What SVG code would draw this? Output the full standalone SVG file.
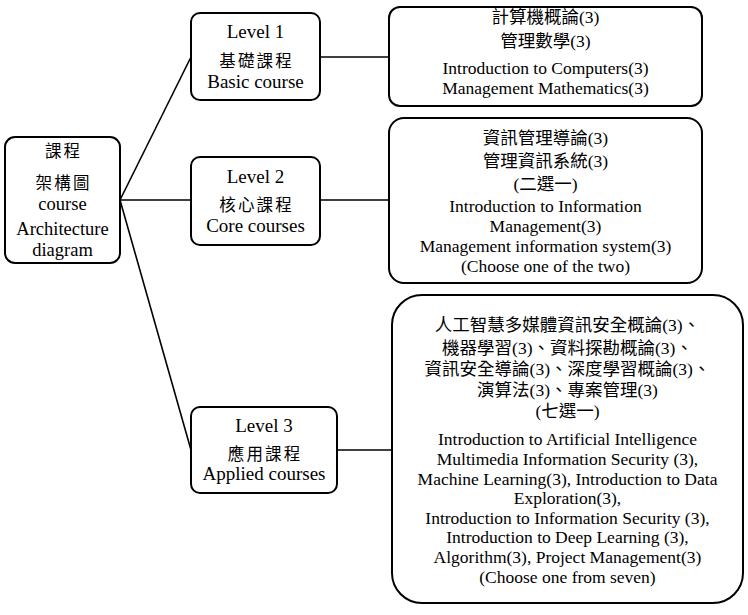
<svg xmlns="http://www.w3.org/2000/svg" width="748" height="615" viewBox="0 0 748 615">
<style>
.box{fill:#fff;stroke:#000;stroke-width:2}
.conn line{stroke:#000;stroke-width:1.6}
text{font-family:"Liberation Serif","Noto Sans CJK TC",serif;fill:#000;text-anchor:middle}
.s{font-size:17.5px}
.l{font-size:19px}
.r{font-size:18.5px}
.c{font-size:16.5px;letter-spacing:2.2px}
</style>
<rect width="748" height="615" fill="#fff"/>
<g id="connectors" class="conn">
<line x1="120" y1="200" x2="191" y2="57"/>
<line x1="120" y1="200" x2="191" y2="200"/>
<line x1="120" y1="200" x2="191" y2="450"/>
<line x1="320" y1="57" x2="389" y2="57"/>
<line x1="320" y1="200" x2="389" y2="200"/>
<line x1="337" y1="450" x2="392" y2="450"/>
</g>
<g id="root">
<rect class="box" x="5" y="137" width="115" height="126" rx="10"/>
<text class="c" x="63.6" y="157">課程</text>
<text class="c" x="63.6" y="189">架構圖</text>
<text class="r" x="62.5" y="210">course</text>
<text class="r" x="62.5" y="235">Architecture</text>
<text class="r" x="62.5" y="256">diagram</text>
</g>
<g id="level1">
<rect class="box" x="191" y="13" width="129" height="87" rx="9"/>
<text class="l" x="255.5" y="38">Level 1</text>
<text class="c" x="256.6" y="67">基礎課程</text>
<text class="l" x="255.5" y="88">Basic course</text>
</g>
<g id="level2">
<rect class="box" x="191" y="157" width="129" height="88" rx="9"/>
<text class="l" x="255.5" y="183">Level 2</text>
<text class="c" x="256.6" y="211">核心課程</text>
<text class="l" x="255.5" y="232">Core courses</text>
</g>
<g id="level3">
<rect class="box" x="191" y="407" width="146" height="86" rx="9"/>
<text class="l" x="264" y="432">Level 3</text>
<text class="c" x="265.1" y="460">應用課程</text>
<text class="l" x="264" y="480">Applied courses</text>
</g>
<g id="basic-list">
<rect class="box" x="389" y="7" width="313" height="99" rx="11"/>
<text class="s" x="545.5" y="23">計算機概論(3)</text>
<text class="s" x="545.5" y="47">管理數學(3)</text>
<text class="s" x="545.5" y="74">Introduction to Computers(3)</text>
<text class="s" x="545.5" y="94">Management Mathematics(3)</text>
</g>
<g id="core-list">
<rect class="box" x="389" y="118" width="313" height="165" rx="15"/>
<text class="s" x="545.5" y="144">資訊管理導論(3)</text>
<text class="s" x="545.5" y="167">管理資訊系統(3)</text>
<text class="s" x="545.5" y="190">(二選一)</text>
<text class="s" x="545.5" y="212">Introduction to Information</text>
<text class="s" x="545.5" y="232">Management(3)</text>
<text class="s" x="545.5" y="252">Management information system(3)</text>
<text class="s" x="545.5" y="272">(Choose one of the two)</text>
</g>
<g id="applied-list">
<rect class="box" x="392" y="295" width="351" height="308" rx="30"/>
<text class="s" x="567.5" y="331">人工智慧多媒體資訊安全概論(3)、</text>
<text class="s" x="567.5" y="354">機器學習(3)、資料探勘概論(3)、</text>
<text class="s" x="567.5" y="375">資訊安全導論(3)、深度學習概論(3)、</text>
<text class="s" x="567.5" y="396">演算法(3)、專案管理(3)</text>
<text class="s" x="567.5" y="417">(七選一)</text>
<text class="s" x="567.5" y="445">Introduction to Artificial Intelligence</text>
<text class="s" x="567.5" y="465">Multimedia Information Security (3),</text>
<text class="s" x="567.5" y="485">Machine Learning(3), Introduction to Data</text>
<text class="s" x="567.5" y="504">Exploration(3),</text>
<text class="s" x="567.5" y="524">Introduction to Information Security (3),</text>
<text class="s" x="567.5" y="543">Introduction to Deep Learning (3),</text>
<text class="s" x="567.5" y="563">Algorithm(3), Project Management(3)</text>
<text class="s" x="567.5" y="583">(Choose one from seven)</text>
</g>
</svg>
